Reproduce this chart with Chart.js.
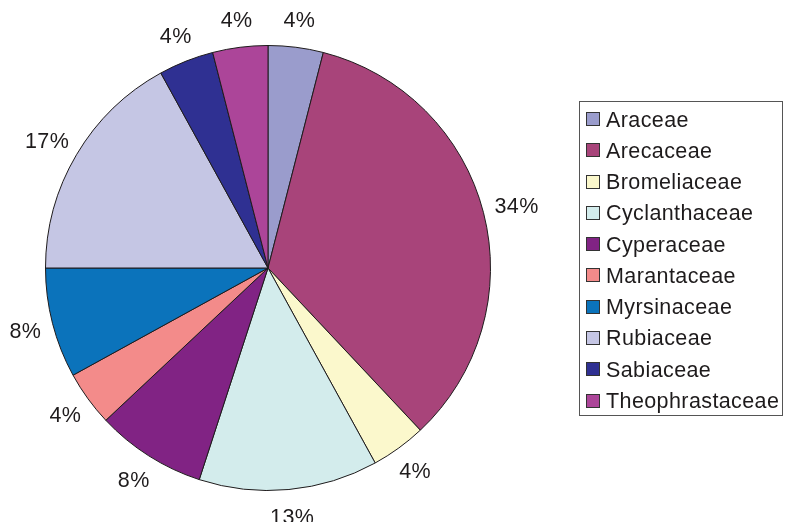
<!DOCTYPE html>
<html>
<head>
<meta charset="utf-8">
<script src="https://cdn.jsdelivr.net/npm/chart.js@4"></script>
<style>
  html, body { margin: 0; padding: 0; background: #fff; }
  #wrap { width: 785px; height: 522px; position: relative; }
</style>
</head>
<body>
<div id="wrap"><canvas id="c" width="785" height="522"></canvas></div>
<script>
const categories = ["Araceae", "Arecaceae", "Bromeliaceae", "Cyclanthaceae", "Cyperaceae",
                    "Marantaceae", "Myrsinaceae", "Rubiaceae", "Sabiaceae", "Theophrastaceae"];
const percentValues = [4, 34, 4, 13, 8, 4, 8, 17, 4, 4];
const sliceColors = ["#9a9ccc", "#a8447a", "#fbf8cc", "#d3ecec", "#812384",
                     "#f38b8a", "#0b73bb", "#c5c6e4", "#2f3092", "#ac4599"];

const TEXT = "#1e1b1c";
const FONT = "21.5px 'Liberation Sans', Arial, sans-serif";

const labelPlugin = {
  id: "outLabels",
  afterDatasetsDraw(chart) {
    const ctx = chart.ctx;
    const meta = chart.getDatasetMeta(0);
    const total = percentValues.reduce((a, b) => a + b, 0);
    ctx.save();
    ctx.font = FONT;
    ctx.letterSpacing = "0.4px";
    ctx.fillStyle = TEXT;
    ctx.textAlign = "center";
    ctx.textBaseline = "alphabetic";
    meta.data.forEach((arc, i) => {
      const mid = (arc.startAngle + arc.endAngle) / 2;
      const ux = Math.cos(mid), uy = Math.sin(mid);
      const txt = Math.round(percentValues[i] / total * 100) + "%";
      const w = ctx.measureText(txt).width;
      const h = 15;
      const rx = arc.outerRadius + 12;
      const ry = arc.outerRadius + 20;
      const cx = arc.x + rx * ux + (w / 2) * ux;
      const cy = arc.y + ry * uy + (h / 2) * uy;
      ctx.fillText(txt, cx, cy + h / 2);
    });
    ctx.restore();
  }
};

const legendPlugin = {
  id: "boxLegend",
  afterDraw(chart) {
    const ctx = chart.ctx;
    const x0 = 579.5, y0 = 101.5, x1 = 782.5, y1 = 415.5;
    ctx.save();
    ctx.strokeStyle = "#555";
    ctx.lineWidth = 1;
    ctx.strokeRect(x0, y0, x1 - x0, y1 - y0);
    ctx.font = FONT;
    ctx.letterSpacing = "0.4px";
    ctx.textBaseline = "alphabetic";
    ctx.textAlign = "left";
    const step = 31.28;
    chart.data.labels.forEach((lab, i) => {
      const cy = 119 + i * step;
      ctx.fillStyle = chart.data.datasets[0].backgroundColor[i];
      ctx.fillRect(586.5, Math.round(cy - 7) + 0.5, 13, 13);
      ctx.strokeStyle = "#333";
      ctx.strokeRect(586.5, Math.round(cy - 7) + 0.5, 13, 13);
      ctx.fillStyle = TEXT;
      ctx.fillText(lab, 606, cy + 7.5);
    });
    ctx.restore();
  }
};

new Chart(document.getElementById("c"), {
  type: "pie",
  data: {
    labels: categories,
    datasets: [{
      data: percentValues,
      backgroundColor: sliceColors,
      borderColor: TEXT,
      borderWidth: 1,
      hoverOffset: 0,
      offset: 0
    }]
  },
  options: {
    responsive: false,
    animation: false,
    layout: { padding: { left: 45, top: 45, right: 294, bottom: 31 } },
    plugins: {
      legend: { display: false },
      tooltip: { enabled: false }
    },
    events: []
  },
  plugins: [labelPlugin, legendPlugin]
});
</script>
</body>
</html>
